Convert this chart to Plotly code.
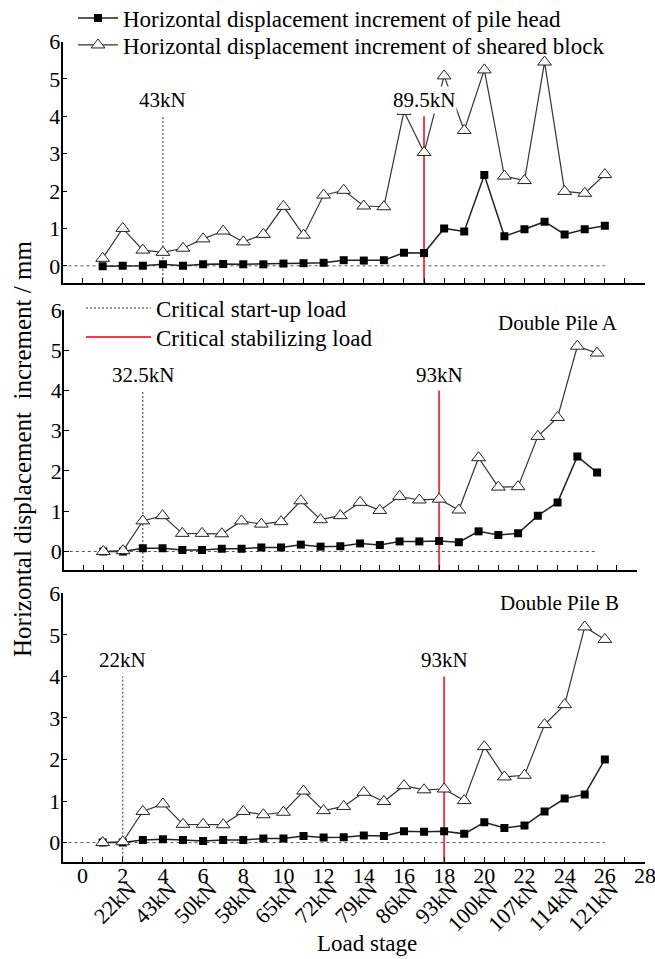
import plotly.graph_objects as go

# ---------------- data ----------------
stages = list(range(1, 27))

head_top = [-0.01, 0.0, 0.0, 0.04, 0.0, 0.04, 0.05, 0.04, 0.04, 0.06, 0.07, 0.08, 0.15,
            0.14, 0.15, 0.35, 0.34, 1.0, 0.92, 2.43, 0.79, 0.98, 1.18, 0.84, 0.98, 1.07]
block_top = [0.2, 1.0, 0.42, 0.36, 0.47, 0.72, 0.93, 0.64, 0.84, 1.59, 0.82, 1.89, 2.02,
             1.6, 1.58, 4.13, 3.03, 5.08, 3.62, 5.24, 2.4, 2.28, 5.45, 1.99, 1.94, 2.44]

head_mid = [0.0, 0.0, 0.08, 0.08, 0.04, 0.04, 0.07, 0.07, 0.1, 0.1, 0.17, 0.12, 0.13,
            0.2, 0.16, 0.25, 0.25, 0.26, 0.23, 0.5, 0.41, 0.45, 0.89, 1.22, 2.36, 1.96]
block_mid = [0.0, 0.02, 0.76, 0.89, 0.45, 0.45, 0.44, 0.76, 0.68, 0.74, 1.26, 0.79, 0.89,
             1.22, 1.02, 1.37, 1.28, 1.3, 1.03, 2.33, 1.6, 1.61, 2.86, 3.33, 5.1, 4.93]

head_bot = [0.0, 0.0, 0.06, 0.08, 0.06, 0.04, 0.06, 0.06, 0.1, 0.1, 0.16, 0.12, 0.13,
            0.17, 0.16, 0.27, 0.26, 0.27, 0.21, 0.49, 0.35, 0.41, 0.75, 1.06, 1.16, 2.0]
block_bot = [0.0, 0.02, 0.75, 0.93, 0.44, 0.44, 0.43, 0.75, 0.67, 0.73, 1.24, 0.77, 0.87,
             1.21, 0.99, 1.37, 1.27, 1.29, 1.01, 2.31, 1.58, 1.62, 2.84, 3.32, 5.19, 4.89]

startup_stage = [4, 3, 2]
startup_label = ["43kN", "32.5kN", "22kN"]
stab_stage = [17, 18, 18]
stab_label = ["89.5kN", "93kN", "93kN"]
crit_line_top = 4
crit_label_y = [4.44, 4.38, 4.39]

panel_names = ["", "Double Pile A", "Double Pile B"]
panel_name_pos = [(None, None), (24.0, 5.67), (23.75, 5.76)]

load_ticks = [2, 4, 6, 8, 10, 12, 14, 16, 18, 20, 22, 24, 26]
load_labels = ["22kN", "43kN", "50kN", "58kN", "65kN", "72kN", "79kN",
               "86kN", "93kN", "100kN", "107kN", "114kN", "121kN"]

# ---------------- layout helpers ----------------
W, H = 655, 959
FONT = "Liberation Serif"
RED = "#e8404a"
XR = [-1, 28]
YR = [-0.46, 6]


def px(x):
    return x / W


def py(y):
    return 1 - y / H


x_domains = [[px(62.5), px(645)], [px(63.8), px(636.6)], [px(62.5), px(645)]]
y_domains = [[py(283), py(41.5)], [py(570), py(310)], [py(861.7), py(593.3)]]

fig = go.Figure()
series = [(head_top, block_top), (head_mid, block_mid), (head_bot, block_bot)]

for i, (h, b) in enumerate(series):
    xa = "x" if i == 0 else f"x{i + 1}"
    ya = "y" if i == 0 else f"y{i + 1}"
    fig.add_trace(go.Scatter(
        x=[XR[0], stages[-1]], y=[0, 0], mode="lines",
        line=dict(color="#555555", width=1, dash="3px,3px"),
        xaxis=xa, yaxis=ya, showlegend=False, hoverinfo="skip"))
    fig.add_trace(go.Scatter(
        x=[startup_stage[i]] * 2, y=[YR[0], crit_line_top], mode="lines",
        line=dict(color="#333333", width=1, dash="2px,2px"),
        name="Critical start-up load", legend="legend3", showlegend=(i == 0),
        xaxis=xa, yaxis=ya))
    fig.add_trace(go.Scatter(
        x=[stab_stage[i]] * 2, y=[YR[0], crit_line_top], mode="lines",
        line=dict(color=RED, width=2),
        name="Critical stabilizing load", legend="legend4", showlegend=(i == 0),
        xaxis=xa, yaxis=ya))
    fig.add_trace(go.Scatter(
        x=stages, y=h, mode="lines+markers",
        line=dict(color="#222222", width=1.5),
        marker=dict(symbol="square", size=8, color="black"),
        name="Horizontal displacement increment of pile head",
        legend="legend", showlegend=(i == 0), xaxis=xa, yaxis=ya))
    fig.add_trace(go.Scatter(
        x=stages, y=b, mode="lines+markers",
        line=dict(color="#333333", width=1.2),
        marker=dict(symbol="triangle-up", size=12, color="white",
                    line=dict(color="#222222", width=1)),
        name="Horizontal displacement increment of sheared block",
        legend="legend2", showlegend=(i == 0), xaxis=xa, yaxis=ya))

    # critical labels
    for s, t in [(startup_stage[i], startup_label[i]), (stab_stage[i], stab_label[i])]:
        fig.add_annotation(x=s, y=crit_label_y[i], xref=xa, yref=ya, text=t,
                           showarrow=False, bgcolor="white", borderpad=1,
                           xanchor="center", yanchor="middle",
                           font=dict(family=FONT, size=21, color="black"))
    if panel_names[i]:
        fig.add_annotation(x=panel_name_pos[i][0], y=panel_name_pos[i][1], xref=xa, yref=ya,
                           text=panel_names[i], showarrow=False,
                           xanchor="center", yanchor="middle",
                           font=dict(family=FONT, size=21, color="black"))

# invisible trace for the secondary (load) axis
fig.add_trace(go.Scatter(x=load_ticks, y=[None] * len(load_ticks), xaxis="x4", yaxis="y3",
                         mode="markers", showlegend=False, hoverinfo="skip"))

axis_common = dict(showline=True, linecolor="black", linewidth=1.5, showgrid=False,
                   zeroline=False, ticks="inside", tickcolor="black", ticklen=5,
                   automargin=False,
                   tickfont=dict(family=FONT, size=22, color="black"))

layout = dict(
    width=W, height=H, margin=dict(l=0, r=0, t=0, b=0, autoexpand=False),
    paper_bgcolor="white", plot_bgcolor="white",
    font=dict(family=FONT, color="black"),
)
for i in range(3):
    sx = "" if i == 0 else str(i + 1)
    layout["xaxis" + sx] = dict(axis_common, domain=x_domains[i], range=XR,
                                anchor="y" + sx, tickmode="linear", tick0=0, dtick=1,
                                showticklabels=False)
    layout["yaxis" + sx] = dict(axis_common, domain=y_domains[i], range=YR,
                                anchor="x" + sx, tickmode="linear", tick0=0, dtick=1,
                                ticklabelstandoff=-4)

layout["xaxis3"].update(showticklabels=True, dtick=2, ticklabelstandoff=-7,
                        ticklabeloverflow="allow",
                        minor=dict(ticks="inside", dtick=1, ticklen=5, tickcolor="black"))
layout["xaxis4"] = dict(overlaying="x3", anchor="y3", side="bottom", range=XR,
                        tickmode="array", tickvals=load_ticks, ticktext=load_labels,
                        tickangle=-45, ticks="", showline=False, showgrid=False,
                        zeroline=False, ticklabelstandoff=9, ticklabelshift=7,
                        automargin=False, ticklabeloverflow="allow",
                        tickfont=dict(family=FONT, size=22, color="black"))

leg_common = dict(xanchor="left", yanchor="middle", bgcolor="rgba(0,0,0,0)",
                  font=dict(family=FONT, size=23, color="black"))
layout["legend"] = dict(leg_common, x=px(73), y=py(18), itemwidth=40)
layout["legend2"] = dict(leg_common, x=px(73), y=py(45), itemwidth=40)
layout["legend3"] = dict(leg_common, x=px(81), y=py(308), itemwidth=65)
layout["legend4"] = dict(leg_common, x=px(81), y=py(337), itemwidth=65)

fig.update_layout(**layout)

fig.add_annotation(x=px(367), y=py(943), xref="paper", yref="paper", text="Load stage",
                   showarrow=False, xanchor="center", yanchor="middle",
                   font=dict(family=FONT, size=23, color="black"))
fig.add_annotation(x=px(22), y=py(449), xref="paper", yref="paper",
                   text="Horizontal displacement\u00a0 increment / mm", textangle=-90,
                   showarrow=False, xanchor="center", yanchor="middle",
                   font=dict(family=FONT, size=25, color="black"))

fig.write_html(
    "out.html",
    config={"displayModeBar": False},
    post_script="document.body.style.margin='0px';document.body.style.overflow='hidden';",
)
